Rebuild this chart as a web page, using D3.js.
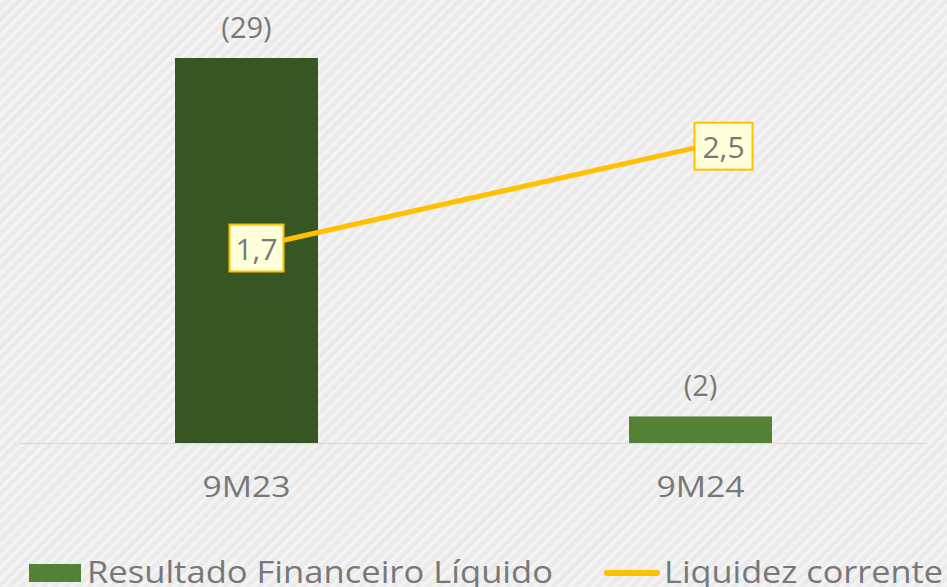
<!DOCTYPE html>
<html>
<head>
<meta charset="utf-8">
<script src="https://cdn.jsdelivr.net/npm/d3@7"></script>
<style>
  body { margin: 0; background: #eeeeee; }
  svg { display: block; }
</style>
</head>
<body>
<script>
// chart data
var categories = ["9M23", "9M24"];
var resultado = [-29, -2];      // Resultado Financeiro Líquido
var liquidez = [1.7, 2.5];      // Liquidez corrente
var barColors = ["#375623", "#548235"];

var width = 947, height = 587;
var fontFam = "'Open Sans', 'Noto Sans', sans-serif";
var textGrey = "#787878";

var svg = d3.select("body").append("svg")
    .attr("width", width)
    .attr("height", height);

// striped background
var defs = svg.append("defs");
var pat = defs.append("pattern")
    .attr("id", "stripes")
    .attr("patternUnits", "userSpaceOnUse")
    .attr("width", 8).attr("height", 8)
    .attr("patternTransform", "rotate(45)");
pat.append("rect").attr("width", 8).attr("height", 8).attr("fill", "#ebebeb");
pat.append("rect").attr("width", 3.5).attr("height", 8).attr("fill", "#f4f4f4");

svg.append("rect")
    .attr("width", width).attr("height", height)
    .attr("fill", "url(#stripes)");

// scales
var x = d3.scaleBand()
    .domain(categories)
    .range([19.5, 927.5])
    .paddingInner(0)
    .paddingOuter(0);

var barW = 143;

// bars drawn by magnitude from the baseline
var y = d3.scaleLinear()
    .domain([0, 29])
    .range([443, 58]);

var y2 = d3.scaleLinear()
    .domain([0, 3])
    .range([465, 83]);

// baseline
svg.append("line")
    .attr("x1", x.range()[0]).attr("x2", x.range()[1])
    .attr("y1", y(0) + 0.5).attr("y2", y(0) + 0.5)
    .attr("stroke", "#dcdcdc")
    .attr("stroke-width", 1.5);

svg.selectAll("rect.bar")
    .data(resultado)
    .enter().append("rect")
    .attr("class", "bar")
    .attr("x", function(d, i) { return x(categories[i]) + x.bandwidth() / 2 - barW / 2; })
    .attr("y", function(d) { return y(Math.abs(d)); })
    .attr("width", barW)
    .attr("height", function(d) { return y(0) - y(Math.abs(d)); })
    .attr("fill", function(d, i) { return barColors[i]; });

svg.selectAll("text.barlabel")
    .data(resultado)
    .enter().append("text")
    .attr("class", "barlabel")
    .attr("x", function(d, i) { return x(categories[i]) + x.bandwidth() / 2; })
    .attr("y", function(d) { return y(Math.abs(d)) - 20; })
    .attr("text-anchor", "middle")
    .attr("font-family", fontFam)
    .attr("font-size", 29)
    .attr("fill", textGrey)
    .text(function(d) { return "(" + Math.abs(d) + ")"; });

// category labels
svg.selectAll("text.cat")
    .data(categories)
    .enter().append("text")
    .attr("class", "cat")
    .attr("x", function(d) { return x(d) + x.bandwidth() / 2 - 44; })
    .attr("y", 497)
    .attr("textLength", 88)
    .attr("lengthAdjust", "spacingAndGlyphs")
    .attr("font-family", fontFam)
    .attr("font-size", 29)
    .attr("fill", textGrey)
    .text(function(d) { return d; });

// line
var line = d3.line()
    .x(function(d, i) { return x(categories[i]) + x.bandwidth() / 2; })
    .y(function(d) { return y2(d); });

svg.append("path")
    .datum(liquidez)
    .attr("d", line)
    .attr("fill", "none")
    .attr("stroke", "#ffc000")
    .attr("stroke-width", 5);

// line labels in boxes
var labelDx = [10, 23];
var fmt = function(d) { return d3.format(".1f")(d).replace(".", ","); };
var lbl = svg.selectAll("g.linelabel")
    .data(liquidez)
    .enter().append("g")
    .attr("class", "linelabel")
    .attr("transform", function(d, i) {
        return "translate(" + (x(categories[i]) + x.bandwidth() / 2 + labelDx[i]) + "," + y2(d) + ")";
    });
lbl.append("rect")
    .attr("x", function(d, i) { return i === 0 ? -27 : -29; })
    .attr("y", -24)
    .attr("width", function(d, i) { return i === 0 ? 54 : 58; })
    .attr("height", 47)
    .attr("fill", "#ffffd9")
    .attr("stroke", "#ffc000")
    .attr("stroke-width", 2);
lbl.append("text")
    .attr("text-anchor", "middle")
    .attr("y", 11)
    .attr("font-family", fontFam)
    .attr("font-size", 30)
    .attr("fill", textGrey)
    .text(fmt);

// legend
var legend = svg.append("g");
legend.append("rect")
    .attr("x", 29).attr("y", 564)
    .attr("width", 52).attr("height", 18)
    .attr("fill", barColors[1]);
legend.append("text")
    .attr("x", 87).attr("y", 583)
    .attr("textLength", 466)
    .attr("lengthAdjust", "spacingAndGlyphs")
    .attr("font-family", fontFam)
    .attr("font-size", 31)
    .attr("fill", textGrey)
    .text("Resultado Financeiro Líquido");
legend.append("line")
    .attr("x1", 607).attr("x2", 657)
    .attr("y1", 573).attr("y2", 573)
    .attr("stroke", "#ffc000")
    .attr("stroke-width", 6)
    .attr("stroke-linecap", "round");
legend.append("text")
    .attr("x", 664).attr("y", 583)
    .attr("textLength", 279)
    .attr("lengthAdjust", "spacingAndGlyphs")
    .attr("font-family", fontFam)
    .attr("font-size", 31)
    .attr("fill", textGrey)
    .text("Liquidez corrente");
</script>
</body>
</html>
